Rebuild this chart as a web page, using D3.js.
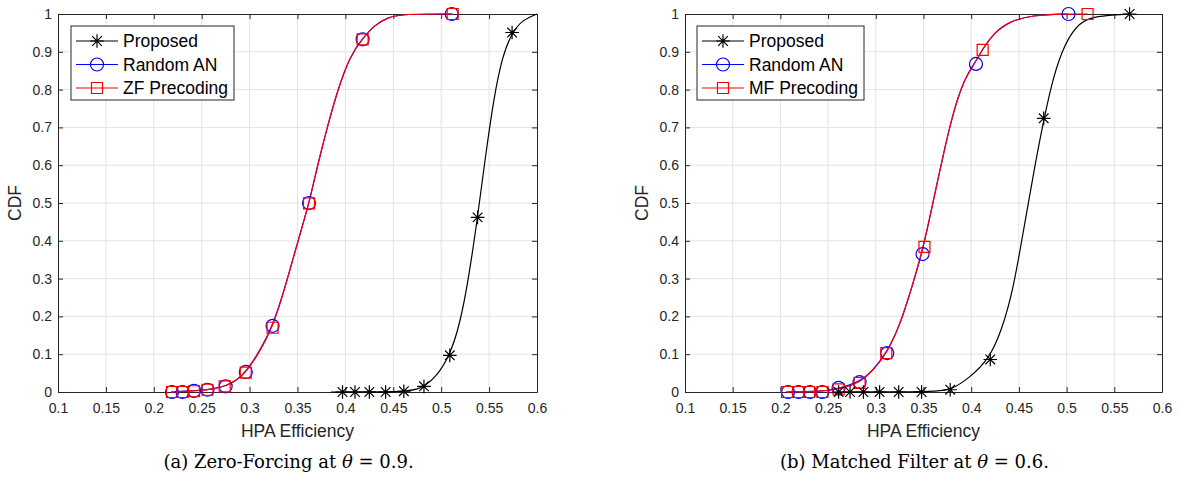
<!DOCTYPE html>
<html>
<head>
<meta charset="utf-8">
<script src="https://cdn.jsdelivr.net/npm/d3@7"></script>
<style>
  html, body { margin: 0; padding: 0; background: #fff; }
  svg { display: block; }
</style>
</head>
<body>
<svg id="chart" width="1179" height="482"></svg>
<script>
// ---------- shared axis data ----------
const xTicks = [0.1, 0.15, 0.2, 0.25, 0.3, 0.35, 0.4, 0.45, 0.5, 0.55, 0.6];
const xTickLabels = ["0.1", "0.15", "0.2", "0.25", "0.3", "0.35", "0.4", "0.45", "0.5", "0.55", "0.6"];
const yTicks = [0, 0.1, 0.2, 0.3, 0.4, 0.5, 0.6, 0.7, 0.8, 0.9, 1];
const yTickLabels = ["0", "0.1", "0.2", "0.3", "0.4", "0.5", "0.6", "0.7", "0.8", "0.9", "1"];
const xLabel = "HPA Efficiency";
const yLabel = "CDF";

// ---------- panel (a): Zero-Forcing ----------
const aSeriesNames = ["Proposed", "Random AN", "ZF Precoding"];
// markers
const aPropMarkX = [0.397, 0.410, 0.425, 0.442, 0.461, 0.482, 0.509, 0.538, 0.574];
const aPropMarkY = [0, 0, 0, 0, 0.002, 0.015, 0.097, 0.462, 0.951];
const aRandMarkX = [0.219, 0.230, 0.242, 0.256, 0.275, 0.296, 0.324, 0.362, 0.418, 0.511];
const aRandMarkY = [0, 0, 0.003, 0.006, 0.015, 0.053, 0.175, 0.500, 0.933, 1.0];
const aZfMarkX = [0.219, 0.230, 0.242, 0.256, 0.274, 0.296, 0.324, 0.362, 0.418, 0.512];
const aZfMarkY = [0, 0, 0.002, 0.006, 0.015, 0.051, 0.170, 0.499, 0.933, 1.0];
// curves
const aPropCurveX = [0.385, 0.440, 0.463, 0.475, 0.482, 0.495, 0.509, 0.519, 0.528, 0.538, 0.546, 0.555, 0.564, 0.574, 0.585, 0.600];
const aPropCurveY = [0, 0, 0.002, 0.007, 0.015, 0.040, 0.097, 0.175, 0.290, 0.462, 0.620, 0.780, 0.890, 0.951, 0.985, 1.0];
const aRandCurveX = [0.218, 0.245, 0.264, 0.275, 0.286, 0.296, 0.310, 0.324, 0.335, 0.345, 0.354, 0.362, 0.371, 0.381, 0.392, 0.405, 0.418, 0.430, 0.445, 0.460, 0.511];
const aRandCurveY = [0, 0.003, 0.009, 0.016, 0.030, 0.053, 0.105, 0.175, 0.260, 0.350, 0.430, 0.500, 0.600, 0.700, 0.800, 0.890, 0.935, 0.970, 0.992, 1.0, 1.0];
const aZfCurveX = [0.218, 0.245, 0.264, 0.275, 0.286, 0.296, 0.310, 0.324, 0.335, 0.345, 0.354, 0.362, 0.371, 0.381, 0.392, 0.405, 0.418, 0.430, 0.445, 0.460, 0.512];
const aZfCurveY = [0, 0.003, 0.009, 0.016, 0.030, 0.052, 0.103, 0.172, 0.258, 0.349, 0.430, 0.499, 0.600, 0.700, 0.800, 0.890, 0.935, 0.970, 0.992, 1.0, 1.0];
const aCaption = ["(a) Zero-Forcing at ", "θ", " = 0.9."];

// ---------- panel (b): Matched Filter ----------
const bSeriesNames = ["Proposed", "Random AN", "MF Precoding"];
const bPropMarkX = [0.261, 0.273, 0.287, 0.304, 0.324, 0.348, 0.378, 0.420, 0.476, 0.566];
const bPropMarkY = [0, 0, 0, 0, 0, 0, 0.006, 0.086, 0.724, 1.0];
const bRandMarkX = [0.208, 0.219, 0.231, 0.244, 0.261, 0.283, 0.312, 0.349, 0.405, 0.502];
const bRandMarkY = [0, 0, 0, 0, 0.011, 0.026, 0.103, 0.365, 0.868, 1.0];
const bMfMarkX = [0.207, 0.219, 0.230, 0.244, 0.261, 0.283, 0.311, 0.351, 0.412, 0.522];
const bMfMarkY = [0, 0, 0, 0, 0.007, 0.024, 0.103, 0.384, 0.905, 1.0];
const bPropCurveX = [0.259, 0.330, 0.365, 0.379, 0.397, 0.4185, 0.432, 0.444, 0.455, 0.4668, 0.4764, 0.486, 0.498, 0.513, 0.530, 0.566];
const bPropCurveY = [0, 0, 0.002, 0.006, 0.035, 0.086, 0.163, 0.270, 0.430, 0.600, 0.724, 0.834, 0.922, 0.978, 0.995, 1.0];
const bRandCurveX = [0.206, 0.240, 0.2614, 0.283, 0.297, 0.3116, 0.325, 0.337, 0.349, 0.359, 0.370, 0.381, 0.393, 0.405, 0.412, 0.424, 0.440, 0.463, 0.5015];
const bRandCurveY = [0, 0.001, 0.009, 0.027, 0.057, 0.104, 0.175, 0.270, 0.372, 0.490, 0.620, 0.740, 0.830, 0.875, 0.908, 0.950, 0.980, 0.997, 1.0];
const bMfCurveX = [0.206, 0.240, 0.2614, 0.283, 0.297, 0.3116, 0.325, 0.337, 0.349, 0.359, 0.370, 0.381, 0.393, 0.405, 0.412, 0.424, 0.440, 0.463, 0.5015, 0.522];
const bMfCurveY = [0, 0.001, 0.007, 0.024, 0.056, 0.103, 0.175, 0.270, 0.375, 0.490, 0.620, 0.740, 0.830, 0.875, 0.908, 0.950, 0.980, 0.997, 1.0, 1.0];
const bCaption = ["(b) Matched Filter at ", "θ", " = 0.6."];

// ---------- styles ----------
const seriesColors = ["#000000", "#0000ff", "#ff0000"];
const seriesMarkers = ["star", "circle", "square"];
const axisColor = "#262626";
const gridColor = "#e3e3e3";
const sansFont = "'Liberation Sans', Arial, Helvetica, sans-serif";
const serifFont = "'DejaVu Serif', 'Liberation Serif', serif";

const svg = d3.select("#chart");

function zipXY(xs, ys) { return xs.map((x, i) => [x, ys[i]]); }

function markerPath(type) {
  if (type === "circle") {
    const r = 6.5;
    return `M${-r},0A${r},${r} 0 1,0 ${r},0A${r},${r} 0 1,0 ${-r},0Z`;
  }
  if (type === "square") {
    const s = 5.5;
    return `M${-s},${-s}H${s}V${s}H${-s}Z`;
  }
  // asterisk (8 arms)
  const a = 6.8, d = 4.8;
  return `M0,${-a}V${a}M${-a},0H${a}M${-d},${-d}L${d},${d}M${-d},${d}L${d},${-d}`;
}

function drawPanel(cfg) {
  const g = svg.append("g");
  const x = d3.scaleLinear().domain([0.1, 0.6]).range([cfg.left, cfg.right]);
  const y = d3.scaleLinear().domain([0, 1]).range([cfg.bottom, cfg.top]);

  // grid
  g.append("g").selectAll("line").data(xTicks.slice(1, -1)).join("line")
    .attr("x1", d => x(d)).attr("x2", d => x(d))
    .attr("y1", cfg.top).attr("y2", cfg.bottom)
    .attr("stroke", gridColor).attr("stroke-width", 1);
  g.append("g").selectAll("line").data(yTicks.slice(1, -1)).join("line")
    .attr("y1", d => y(d)).attr("y2", d => y(d))
    .attr("x1", cfg.left).attr("x2", cfg.right)
    .attr("stroke", gridColor).attr("stroke-width", 1);

  // axes (ticks inward, box)
  const tl = 5;
  const xb = d3.axisBottom(x).tickValues(xTicks).tickSizeInner(-tl).tickSizeOuter(0)
    .tickPadding(11).tickFormat((d, i) => xTickLabels[i]);
  const xt = d3.axisTop(x).tickValues(xTicks).tickSizeInner(-tl).tickSizeOuter(0).tickFormat("");
  const yl = d3.axisLeft(y).tickValues(yTicks).tickSizeInner(-tl).tickSizeOuter(0)
    .tickPadding(6).tickFormat((d, i) => yTickLabels[i]);
  const yr = d3.axisRight(y).tickValues(yTicks).tickSizeInner(-tl).tickSizeOuter(0).tickFormat("");

  const axes = [
    g.append("g").attr("transform", `translate(0,${cfg.bottom})`).call(xb),
    g.append("g").attr("transform", `translate(0,${cfg.top})`).call(xt),
    g.append("g").attr("transform", `translate(${cfg.left},0)`).call(yl),
    g.append("g").attr("transform", `translate(${cfg.right},0)`).call(yr)
  ];
  axes.forEach(a => {
    a.select(".domain").attr("stroke", axisColor).attr("stroke-width", 1);
    a.selectAll(".tick line").attr("stroke", axisColor).attr("stroke-width", 1);
    a.selectAll(".tick text").attr("fill", axisColor)
      .style("font-family", sansFont).style("font-size", "14px");
  });

  // series lines
  const line = d3.line().x(d => x(d[0])).y(d => y(d[1])).curve(d3.curveBasis);
  const order = [1, 2, 0];
  order.forEach(i => {
    const s = cfg.series[i];
    g.append("path").datum(zipXY(s.cx, s.cy))
      .attr("d", line).attr("fill", "none")
      .attr("stroke", seriesColors[i]).attr("stroke-width", 1.2);
  });
  order.forEach(i => {
    const s = cfg.series[i];
    g.append("g").selectAll("path").data(zipXY(s.mx, s.my)).join("path")
      .attr("transform", d => `translate(${x(d[0])},${y(d[1])})`)
      .attr("d", markerPath(seriesMarkers[i]))
      .attr("fill", "none").attr("stroke", seriesColors[i]).attr("stroke-width", 1.2);
  });

  // axis labels
  g.append("text").attr("x", (cfg.left + cfg.right) / 2).attr("y", cfg.bottom + 45)
    .attr("text-anchor", "middle").attr("fill", axisColor)
    .style("font-family", sansFont).style("font-size", "17.5px").text(xLabel);
  g.append("text")
    .attr("transform", `translate(${cfg.left - 37},${(cfg.top + cfg.bottom) / 2}) rotate(-90)`)
    .attr("text-anchor", "middle").attr("fill", axisColor)
    .style("font-family", sansFont).style("font-size", "17.5px").text(yLabel);

  // legend
  const lg = g.append("g");
  lg.append("rect").attr("x", cfg.legX).attr("y", 26).attr("width", cfg.legW).attr("height", 74)
    .attr("fill", "#fff").attr("stroke", axisColor).attr("stroke-width", 1);
  cfg.names.forEach((name, i) => {
    const yy = 41 + i * 23.5;
    lg.append("line").attr("x1", cfg.legX + 5).attr("x2", cfg.legX + 47)
      .attr("y1", yy).attr("y2", yy).attr("stroke", seriesColors[i]).attr("stroke-width", 1.2);
    lg.append("path").attr("transform", `translate(${cfg.legX + 26},${yy})`)
      .attr("d", markerPath(seriesMarkers[i])).attr("fill", "none")
      .attr("stroke", seriesColors[i]).attr("stroke-width", 1.2);
    lg.append("text").attr("x", cfg.legX + 52).attr("y", yy + 6)
      .attr("fill", "#000").style("font-family", sansFont).style("font-size", "17.5px").text(name);
  });

  // caption
  const cap = g.append("text").attr("x", (cfg.left + cfg.right) / 2 - 9).attr("y", 468)
    .attr("text-anchor", "middle").attr("fill", "#000")
    .style("font-family", serifFont).style("font-size", "18px");
  cap.append("tspan").text(cfg.caption[0]);
  cap.append("tspan").style("font-style", "italic").text(cfg.caption[1]);
  cap.append("tspan").text(cfg.caption[2]);
}

drawPanel({
  id: "a", left: 58, right: 537, top: 14, bottom: 392, legX: 71, legW: 163,
  names: aSeriesNames, caption: aCaption,
  series: [
    { mx: aPropMarkX, my: aPropMarkY, cx: aPropCurveX, cy: aPropCurveY },
    { mx: aRandMarkX, my: aRandMarkY, cx: aRandCurveX, cy: aRandCurveY },
    { mx: aZfMarkX, my: aZfMarkY, cx: aZfCurveX, cy: aZfCurveY }
  ]
});
drawPanel({
  id: "b", left: 685, right: 1162, top: 14, bottom: 392, legX: 697, legW: 167,
  names: bSeriesNames, caption: bCaption,
  series: [
    { mx: bPropMarkX, my: bPropMarkY, cx: bPropCurveX, cy: bPropCurveY },
    { mx: bRandMarkX, my: bRandMarkY, cx: bRandCurveX, cy: bRandCurveY },
    { mx: bMfMarkX, my: bMfMarkY, cx: bMfCurveX, cy: bMfCurveY }
  ]
});
</script>
</body>
</html>
